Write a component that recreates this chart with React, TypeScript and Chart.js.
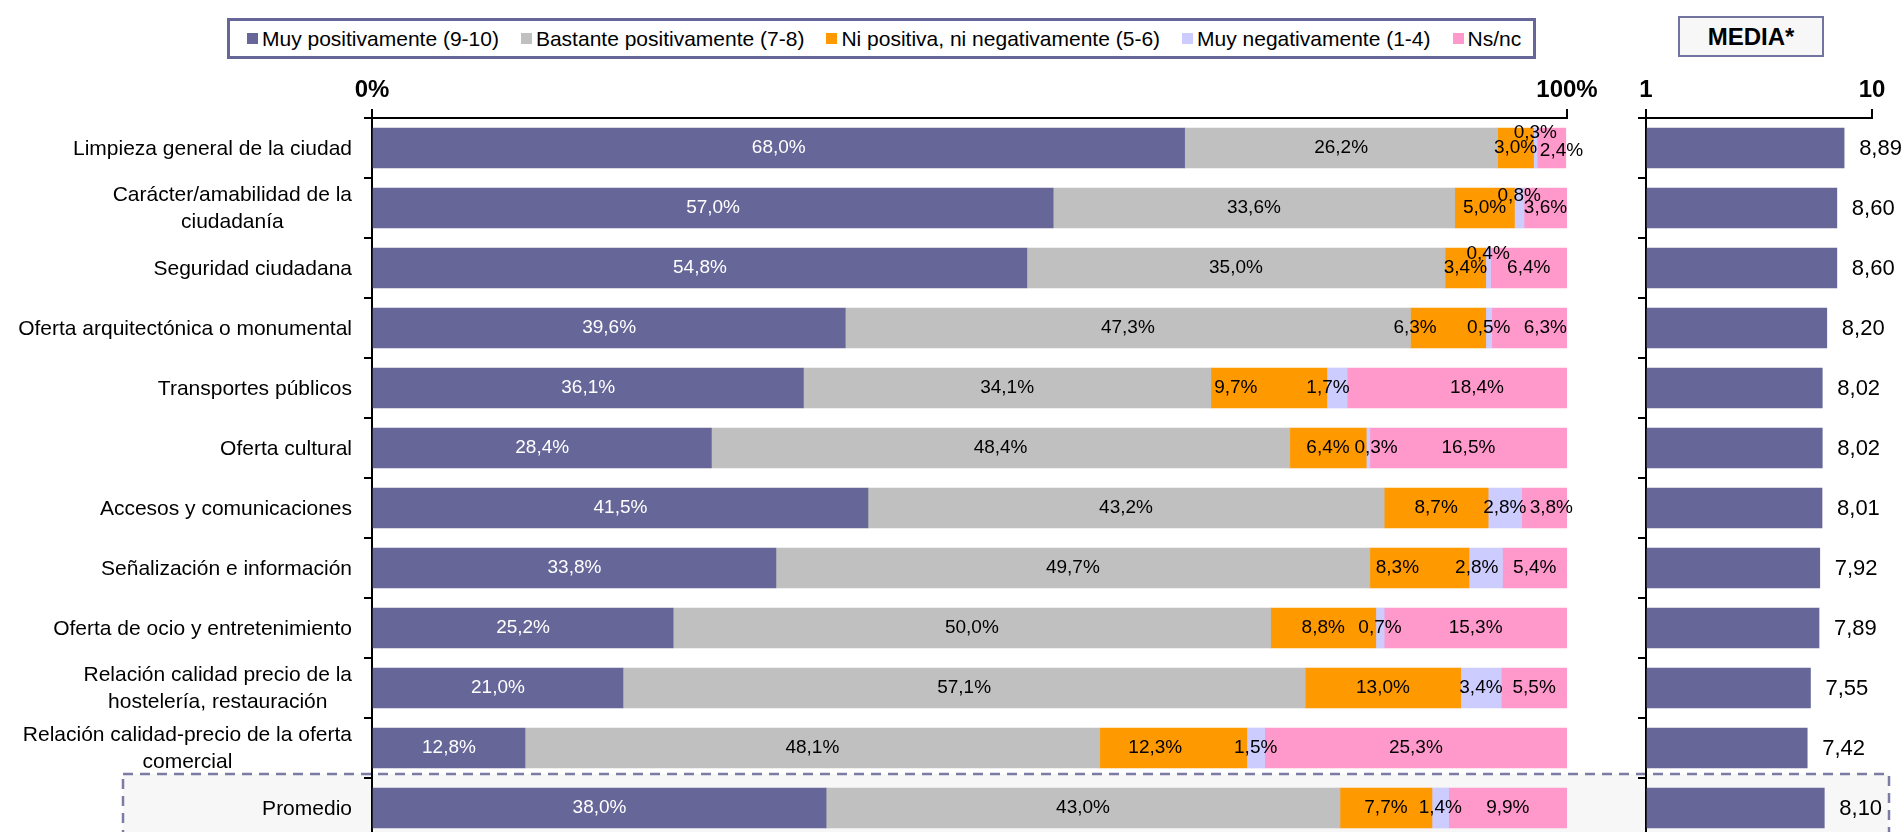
import React, { useEffect, useRef } from 'react';
import { Chart, registerables } from 'chart.js';

Chart.register(...registerables);

// ---------- data ----------
const CATEGORIES: (string | string[])[] = [
  'Limpieza general de la ciudad',
  ['Carácter/amabilidad de la', 'ciudadanía'],
  'Seguridad ciudadana',
  'Oferta arquitectónica o monumental',
  'Transportes públicos',
  'Oferta cultural',
  'Accesos y comunicaciones',
  'Señalización e información',
  'Oferta de ocio y entretenimiento',
  ['Relación calidad precio de la', 'hostelería, restauración'],
  ['Relación calidad-precio de la oferta', 'comercial'],
  'Promedio',
];

const SERIES_NAMES = [
  'Muy positivamente (9-10)',
  'Bastante positivamente (7-8)',
  'Ni positiva, ni negativamente (5-6)',
  'Muy negativamente (1-4)',
  'Ns/nc',
];

const MUY_POSITIVAMENTE = [68.0, 57.0, 54.8, 39.6, 36.1, 28.4, 41.5, 33.8, 25.2, 21.0, 12.8, 38.0];
const BASTANTE_POSITIVAMENTE = [26.2, 33.6, 35.0, 47.3, 34.1, 48.4, 43.2, 49.7, 50.0, 57.1, 48.1, 43.0];
const NI_POSITIVA_NI_NEGATIVAMENTE = [3.0, 5.0, 3.4, 6.3, 9.7, 6.4, 8.7, 8.3, 8.8, 13.0, 12.3, 7.7];
const MUY_NEGATIVAMENTE = [0.3, 0.8, 0.4, 0.5, 1.7, 0.3, 2.8, 2.8, 0.7, 3.4, 1.5, 1.4];
const NS_NC = [2.4, 3.6, 6.4, 6.3, 18.4, 16.5, 3.8, 5.4, 15.3, 5.5, 25.3, 9.9];

const MEDIA = [8.89, 8.6, 8.6, 8.2, 8.02, 8.02, 8.01, 7.92, 7.89, 7.55, 7.42, 8.1];

const PERCENT_TICKS = [0, 100];
const MEDIA_TICKS = [1, 10];
const MEDIA_TITLE = 'MEDIA*';

// ---------- style ----------
const FONT = '"Liberation Sans", Arial, sans-serif';
const COLORS = ['#666699', '#C0C0C0', '#FF9900', '#CCCCFF', '#FF99CC'];
const LABEL_COLORS = ['#FFFFFF', '#000000', '#000000', '#000000', '#000000'];
const CAT_FONT_SIZE = 21;
const CAT_LINE_HEIGHT = 27;
const CAT_GAP = 20; // distance from axis to label block
// small label nudges (row-series) mimicking the hand-moved labels of the original
const LABEL_NUDGES: Record<string, [number, number]> = {
  '0-3': [0, -15],
  '0-4': [10, 3],
  '1-3': [0, -12],
  '2-3': [0, -14],
  '3-2': [-33, 0],
  '3-4': [16, 0],
  '4-2': [-33, 0],
  '4-3': [-9, 0],
  '4-4': [20, 0],
  '5-3': [8, 0],
  '6-4': [7, 0],
  '7-2': [-22, 0],
  '7-3': [-9, 0],
  '10-2': [-18, 0],
};

const fmt = (v: number, d: number) => v.toFixed(d).replace('.', ',');

const segmentLabels = {
  id: 'segmentLabels',
  afterDatasetsDraw(chart: any) {
    const ctx = chart.ctx;
    ctx.save();
    ctx.font = `19px ${FONT}`;
    ctx.textAlign = 'center';
    ctx.textBaseline = 'middle';
    chart.data.datasets.forEach((ds: any, di: number) => {
      const meta = chart.getDatasetMeta(di);
      meta.data.forEach((bar: any, i: number) => {
        const v = ds.data[i] as number;
        const n = LABEL_NUDGES[`${i}-${di}`] || [0, 0];
        ctx.fillStyle = LABEL_COLORS[di];
        ctx.fillText(fmt(v, 1) + '%', (bar.x + bar.base) / 2 + n[0], bar.y + n[1]);
      });
    });
    ctx.restore();
  },
};

// category labels: block right-aligned to the axis, lines centred within the block
const categoryLabels = {
  id: 'categoryLabels',
  afterDraw(chart: any) {
    const ctx = chart.ctx;
    const scale = chart.scales.y;
    ctx.save();
    ctx.font = `${CAT_FONT_SIZE}px ${FONT}`;
    ctx.textAlign = 'center';
    ctx.textBaseline = 'middle';
    ctx.fillStyle = '#000';
    const right = scale.right - CAT_GAP;
    chart.data.labels.forEach((lab: any, i: number) => {
      const lines: string[] = Array.isArray(lab) ? lab : [lab];
      const widest = Math.max(...lines.map((l) => ctx.measureText(l).width));
      const cx = right - widest / 2;
      const cy = scale.getPixelForTick(i);
      const y0 = cy - ((lines.length - 1) * CAT_LINE_HEIGHT) / 2;
      lines.forEach((l, k) => ctx.fillText(l, cx, y0 + k * CAT_LINE_HEIGHT + 1));
    });
    ctx.restore();
  },
};

const mediaLabels = {
  id: 'mediaLabels',
  afterDatasetsDraw(chart: any) {
    const ctx = chart.ctx;
    ctx.save();
    ctx.font = `22px ${FONT}`;
    ctx.textAlign = 'left';
    ctx.textBaseline = 'middle';
    ctx.fillStyle = '#000';
    const ds = chart.data.datasets[0];
    chart.getDatasetMeta(0).data.forEach((bar: any, i: number) => {
      ctx.fillText(fmt(ds.data[i] as number, 2), bar.x + 15, bar.y + 1);
    });
    ctx.restore();
  },
};

const axisCommon = {
  grid: { drawOnChartArea: false, drawTicks: true, color: '#000', lineWidth: 2 },
  border: { display: true, color: '#000', width: 2 },
};

const fixHeight = (h: number) => (s: any) => {
  s.height = h;
  s.paddingLeft = 0;
  s.paddingRight = 0;
};
const fixWidth = (w: number) => (s: any) => {
  s.width = w;
  s.paddingTop = 0;
  s.paddingBottom = 0;
};

export default function App() {
  const leftRef = useRef<HTMLCanvasElement>(null);
  const rightRef = useRef<HTMLCanvasElement>(null);

  useEffect(() => {
    const data = [MUY_POSITIVAMENTE, BASTANTE_POSITIVAMENTE, NI_POSITIVA_NI_NEGATIVAMENTE, MUY_NEGATIVAMENTE, NS_NC];
    const left = new Chart(leftRef.current!, {
      type: 'bar',
      data: {
        labels: CATEGORIES as any,
        datasets: data.map((d, i) => ({
          label: SERIES_NAMES[i],
          data: d,
          backgroundColor: COLORS[i],
          borderWidth: 0,
          barThickness: 40,
        })),
      },
      options: {
        indexAxis: 'y',
        responsive: false,
        animation: false,
        devicePixelRatio: 1,
        layout: { padding: { left: 0, right: 53, top: 0, bottom: 2 } },
        plugins: { legend: { display: false }, tooltip: { enabled: false } },
        scales: {
          x: {
            type: 'linear',
            position: 'top',
            stacked: true,
            min: 0,
            max: 100,
            afterBuildTicks: (s: any) => {
              s.ticks = PERCENT_TICKS.map((v) => ({ value: v }));
            },
            afterFit: fixHeight(118),
            ticks: {
              callback: (v: any) => v + '%',
              font: { family: FONT, size: 24, weight: 'bold' },
              color: '#000',
              padding: 4,
              maxRotation: 0,
            },
            ...axisCommon,
            grid: { ...axisCommon.grid, tickLength: 9 },
          },
          y: {
            type: 'category',
            stacked: true,
            offset: true,
            afterFit: fixWidth(372),
            ticks: { display: false, autoSkip: false },
            ...axisCommon,
            grid: { ...axisCommon.grid, offset: true, tickLength: 8 },
          },
        },
      } as any,
      plugins: [segmentLabels, categoryLabels],
    });

    const right = new Chart(rightRef.current!, {
      type: 'bar',
      data: {
        labels: CATEGORIES as any,
        datasets: [
          {
            label: MEDIA_TITLE,
            data: MEDIA,
            backgroundColor: COLORS[0],
            borderWidth: 0,
            barThickness: 40,
            base: MEDIA_TICKS[0],
          } as any,
        ],
      },
      options: {
        indexAxis: 'y',
        responsive: false,
        animation: false,
        devicePixelRatio: 1,
        layout: { padding: { left: 0, right: 29, top: 0, bottom: 2 } },
        plugins: { legend: { display: false }, tooltip: { enabled: false } },
        scales: {
          x: {
            type: 'linear',
            position: 'top',
            min: MEDIA_TICKS[0],
            max: MEDIA_TICKS[1],
            afterBuildTicks: (s: any) => {
              s.ticks = MEDIA_TICKS.map((v) => ({ value: v }));
            },
            afterFit: fixHeight(118),
            ticks: {
              font: { family: FONT, size: 24, weight: 'bold' },
              color: '#000',
              padding: 4,
              maxRotation: 0,
            },
            ...axisCommon,
            grid: { ...axisCommon.grid, tickLength: 9 },
          },
          y: {
            type: 'category',
            offset: true,
            afterFit: fixWidth(46),
            ticks: { display: false, autoSkip: false },
            ...axisCommon,
            grid: { ...axisCommon.grid, offset: true, tickLength: 8 },
          },
        },
      } as any,
      plugins: [mediaLabels],
    });

    return () => {
      left.destroy();
      right.destroy();
    };
  }, []);

  return (
    <div
      style={{
        position: 'absolute',
        left: 0,
        top: 0,
        width: 1901,
        height: 832,
        overflow: 'hidden',
        background: '#fff',
        fontFamily: FONT,
      }}
    >
      {/* dashed highlight around "Promedio" row */}
      <svg width={1901} height={832} style={{ position: 'absolute', left: 0, top: 0 }}>
        <rect
          x={123}
          y={774}
          width={1766}
          height={120}
          fill="#F7F7F7"
          stroke="#7B7BA6"
          strokeWidth={2.5}
          strokeDasharray="10 7"
        />
      </svg>
      <canvas
        ref={leftRef}
        width={1620}
        height={840}
        style={{ position: 'absolute', left: 0, top: 0, width: 1620, height: 840 }}
      />
      <canvas
        ref={rightRef}
        width={301}
        height={840}
        style={{ position: 'absolute', left: 1600, top: 0, width: 301, height: 840 }}
      />
      {/* legend */}
      <div
        style={{
          position: 'absolute',
          left: 227,
          top: 18,
          height: 41,
          boxSizing: 'border-box',
          border: '3px solid #666699',
          background: '#fff',
          display: 'flex',
          alignItems: 'center',
          paddingLeft: 17,
          paddingRight: 12,
          gap: 22,
          fontSize: 21,
          color: '#000',
          whiteSpace: 'nowrap',
        }}
      >
        {SERIES_NAMES.map((name, i) => (
          <div key={name} style={{ display: 'flex', alignItems: 'center', gap: 4 }}>
            <span style={{ display: 'inline-block', width: 11, height: 11, background: COLORS[i] }} />
            <span>{name}</span>
          </div>
        ))}
      </div>
      {/* MEDIA title box */}
      <div
        style={{
          position: 'absolute',
          left: 1678,
          top: 16,
          width: 146,
          height: 41,
          boxSizing: 'border-box',
          border: '2px solid #7373A0',
          background: '#F7F7F7',
          display: 'flex',
          alignItems: 'center',
          justifyContent: 'center',
          fontSize: 24,
          fontWeight: 'bold',
          color: '#000',
        }}
      >
        {MEDIA_TITLE}
      </div>
    </div>
  );
}
